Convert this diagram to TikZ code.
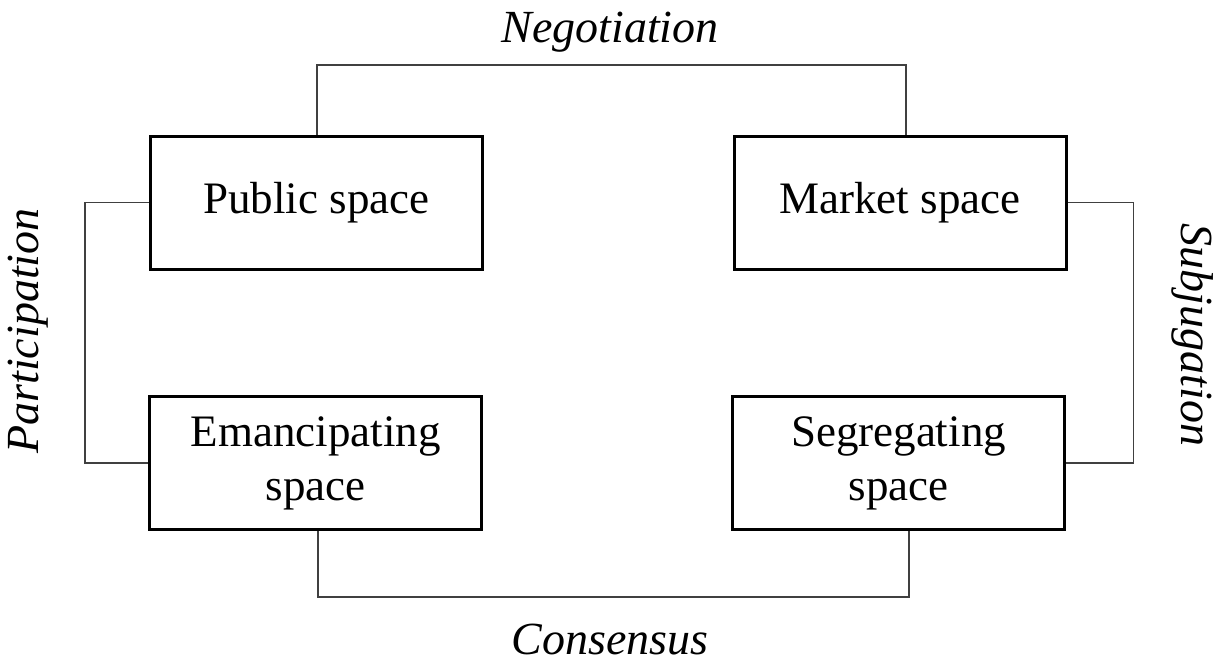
\documentclass[tikz,border=0pt]{standalone}
\usepackage{fontspec}
\setmainfont{Liberation Serif}
\begin{document}
\begin{tikzpicture}[x=1pt,y=-1pt,
  spacebox/.style={draw=black,line width=3pt,minimum width=332pt,minimum height=133pt,
    align=center,inner sep=0pt,font=\fontsize{45}{54}\selectfont},
  link/.style={draw=black!75,line width=1.7pt},
  lbl/.style={inner sep=0pt,font=\fontsize{46}{55}\selectfont\itshape}]
\useasboundingbox (0,0) rectangle (1220,664);
\node[spacebox] (pub) at (316.5,202.5) {Public space};
\node[spacebox] (mkt) at (900,202.5) {Market space};
\node[spacebox] (em) at (315.5,463) {Emancipating\\space};
\node[spacebox] (seg) at (898.5,463) {Segregating\\space};
\coordinate (n1) at (317,65);
\coordinate (n2) at (906,65);
\coordinate (c1) at (318,597);
\coordinate (c2) at (909,597);
\draw[link] (pub.north -| n1) -- (n1) -- (n2) -- (mkt.north -| n2);
\draw[link] (pub.west) -- ++(-64,0) |- (em.west);
\draw[link] (mkt.east) -- ++(66,0) |- (seg.east);
\draw[link] (em.south -| c1) -- (c1) -- (c2) -- (seg.south -| c2);
\node[lbl] (neg) at (610,32) {Negotiation};
\node[lbl] (con) at (610,640) {Consensus};
\node[lbl,rotate=90] (par) at (28,331) {Participation};
\node[lbl,rotate=-90] (sub) at (1193,335) {Subjugation};
\end{tikzpicture}
\end{document}
